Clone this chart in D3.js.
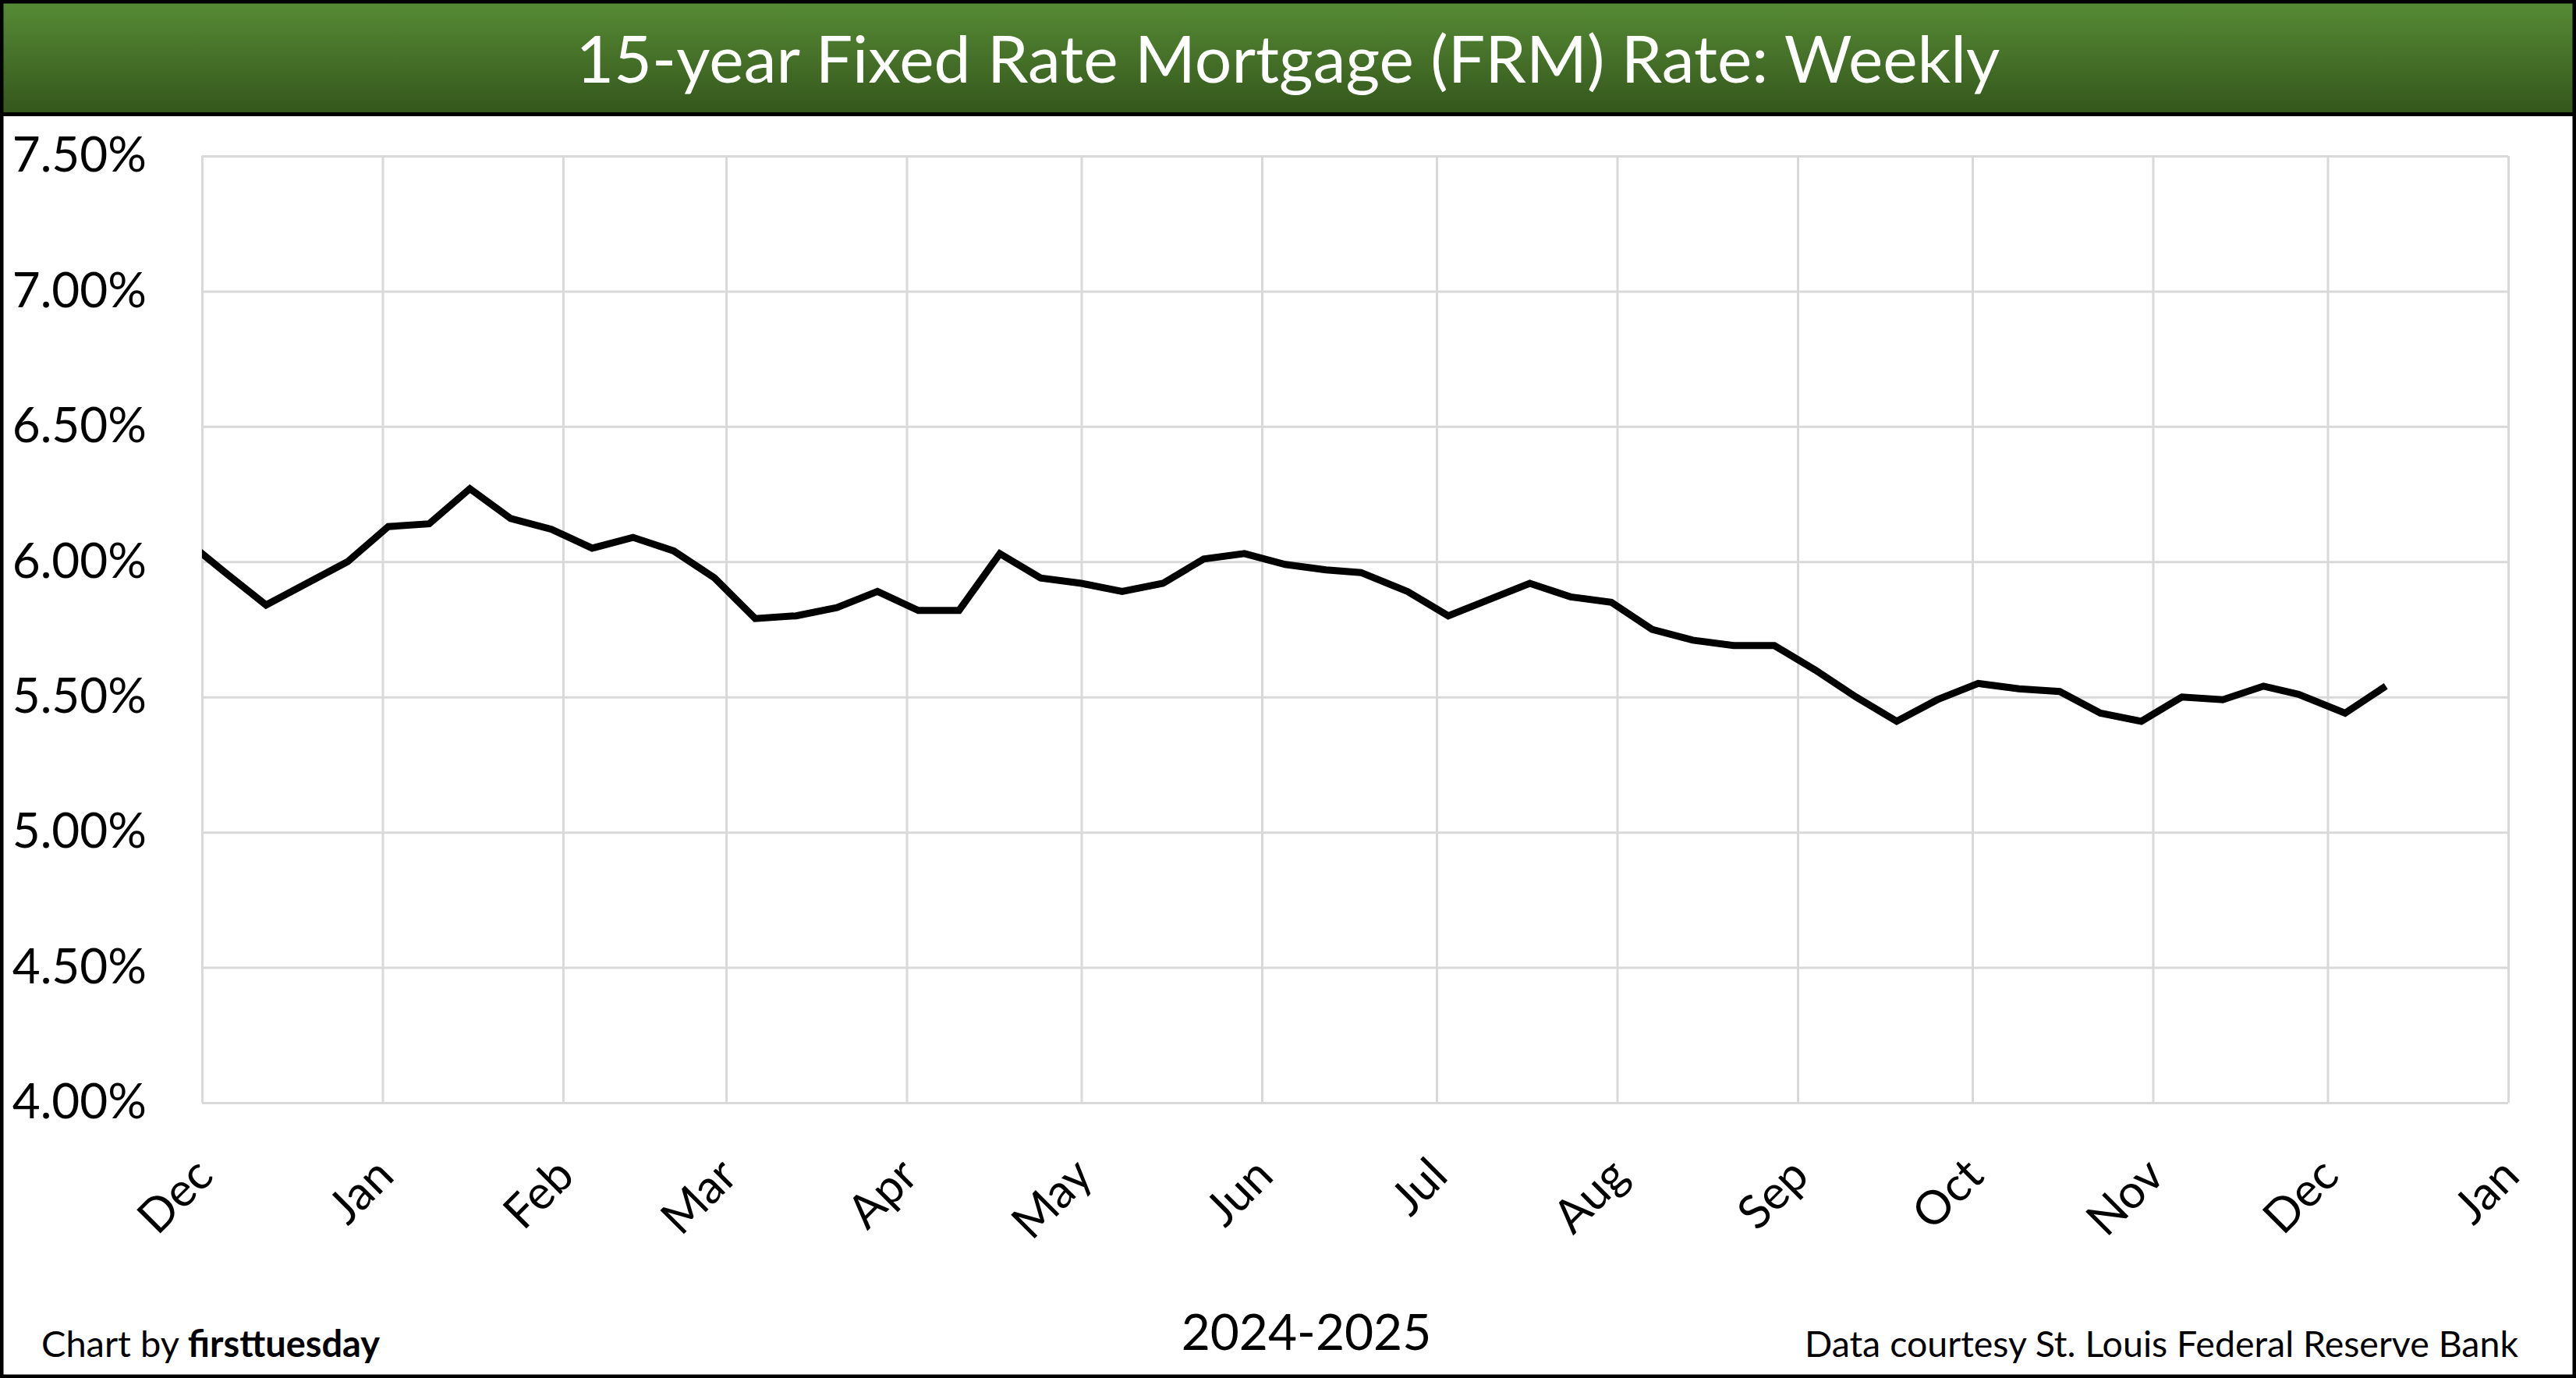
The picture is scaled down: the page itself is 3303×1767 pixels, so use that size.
<!DOCTYPE html>
<html>
<head>
<meta charset="utf-8">
<script src="https://cdn.jsdelivr.net/npm/d3@7"></script>
<style>
  body { margin: 0; background: #fff; }
  text { font-family: Lato, "Open Sans", sans-serif; }
</style>
</head>
<body>
<div id="chart"></div>
<script>
// weekly 15-year FRM rate (first point sits left of the axis and gets clipped)
const weekDates = [
  '2024-11-27', '2024-12-05', '2024-12-12', '2024-12-19', '2024-12-26',
  '2025-01-02', '2025-01-09', '2025-01-16', '2025-01-23', '2025-01-30',
  '2025-02-06', '2025-02-13', '2025-02-20', '2025-02-27',
  '2025-03-06', '2025-03-13', '2025-03-20', '2025-03-27',
  '2025-04-03', '2025-04-10', '2025-04-17', '2025-04-24',
  '2025-05-01', '2025-05-08', '2025-05-15', '2025-05-22', '2025-05-29',
  '2025-06-05', '2025-06-12', '2025-06-18', '2025-06-26',
  '2025-07-03', '2025-07-10', '2025-07-17', '2025-07-24', '2025-07-31',
  '2025-08-07', '2025-08-14', '2025-08-21', '2025-08-28',
  '2025-09-04', '2025-09-11', '2025-09-18', '2025-09-25',
  '2025-10-02', '2025-10-09', '2025-10-16', '2025-10-23', '2025-10-30',
  '2025-11-06', '2025-11-13', '2025-11-20', '2025-11-26',
  '2025-12-04', '2025-12-11'
]
const rates = [
  6.10, 5.96, 5.84, 5.92, 6.00,
  6.13, 6.14, 6.27, 6.16, 6.12,
  6.05, 6.09, 6.04, 5.94,
  5.79, 5.80, 5.83, 5.89,
  5.82, 5.82, 6.03, 5.94,
  5.92, 5.89, 5.92, 6.01, 6.03,
  5.99, 5.97, 5.96, 5.89,
  5.80, 5.86, 5.92, 5.87, 5.85,
  5.75, 5.71, 5.69, 5.69,
  5.60, 5.50, 5.41, 5.49,
  5.55, 5.53, 5.52, 5.44, 5.41,
  5.50, 5.49, 5.54, 5.51,
  5.44, 5.54
]
const yTicks = [4.0, 4.5, 5.0, 5.5, 6.0, 6.5, 7.0, 7.5]
const monthLabels = ['Dec', 'Jan', 'Feb', 'Mar', 'Apr', 'May', 'Jun', 'Jul', 'Aug', 'Sep', 'Oct', 'Nov', 'Dec', 'Jan']
const xStart = '2024-12-01'
const xEnd = '2026-01-01'

const title = '15-year Fixed Rate Mortgage (FRM) Rate: Weekly'
const xTitle = '2024-2025'

const W = 3303
const H = 1767
const plot = { left: 259, right: 3216, top: 200, bottom: 1414 }
const innerW = plot.right - plot.left
const innerH = plot.bottom - plot.top

const parse = d3.utcParse('%Y-%m-%d')
const data = weekDates.map((d, i) => ({ date: parse(d), rate: rates[i] }))

const svg = d3.select('#chart')
  .append('svg')
  .attr('width', W)
  .attr('height', H)
  .attr('viewBox', `0 0 ${W} ${H}`)

const defs = svg.append('defs')
const grad = defs.append('linearGradient')
  .attr('id', 'titleGrad')
  .attr('x1', 0).attr('y1', 0).attr('x2', 0).attr('y2', 1)
grad.append('stop').attr('offset', '0%').attr('stop-color', '#578c35')
grad.append('stop').attr('offset', '100%').attr('stop-color', '#34561c')

defs.append('clipPath').attr('id', 'plotClip')
  .append('rect')
  .attr('width', innerW)
  .attr('height', innerH)

svg.append('rect')
  .attr('width', W)
  .attr('height', H)
  .attr('fill', '#fff')

// title bar
svg.append('rect')
  .attr('x', 0).attr('y', 0)
  .attr('width', W).attr('height', 146)
  .attr('fill', 'url(#titleGrad)')
svg.append('line')
  .attr('x1', 0).attr('x2', W)
  .attr('y1', 146.5).attr('y2', 146.5)
  .attr('stroke', '#000')
  .attr('stroke-width', 5)
svg.append('text')
  .text(title)
  .attr('x', W / 2)
  .attr('y', 106)
  .attr('text-anchor', 'middle')
  .attr('fill', '#fff')
  .style('font-size', '84px')

const x = d3.scaleUtc()
  .domain([parse(xStart), parse(xEnd)])
  .range([0, innerW])

const y = d3.scaleLinear()
  .domain([yTicks[0], yTicks[yTicks.length - 1]])
  .range([innerH, 0])

const g = svg.append('g')
  .attr('transform', `translate(${plot.left}, ${plot.top})`)

const yAxis = g.append('g')
  .call(d3.axisLeft(y)
    .tickValues(yTicks)
    .tickSize(-innerW)
    .tickPadding(plot.left - 188)
    .tickFormat((d) => d.toFixed(2) + '%'))
yAxis.select('.domain').remove()
yAxis.selectAll('line').attr('stroke', '#d9d9d9').attr('stroke-width', 3)
yAxis.selectAll('text')
  .attr('fill', '#000')
  .style('font-size', '62px')
  .style('font-family', 'Lato, sans-serif')

const monthTicks = d3.utcMonth.range(parse(xStart), d3.utcDay.offset(parse(xEnd), 1))
const xAxis = g.append('g')
  .attr('transform', `translate(0, ${innerH})`)
  .call(d3.axisBottom(x)
    .tickValues(monthTicks)
    .tickSize(-innerH)
    .tickFormat((_, i) => monthLabels[i]))
xAxis.select('.domain').remove()
xAxis.selectAll('line').attr('stroke', '#d9d9d9').attr('stroke-width', 3)
xAxis.selectAll('text')
  .attr('fill', '#000')
  .attr('x', 0)
  .attr('y', 0)
  .attr('dy', '0.35em')
  .attr('text-anchor', 'end')
  .attr('transform', 'translate(2, 82) rotate(-45)')
  .style('font-size', '60px')
  .style('font-family', 'Lato, sans-serif')

const line = d3.line()
  .x((d) => x(d.date))
  .y((d) => y(d.rate))

g.append('path')
  .datum(data)
  .attr('clip-path', 'url(#plotClip)')
  .attr('d', line)
  .attr('fill', 'none')
  .attr('stroke', '#000')
  .attr('stroke-width', 9)
  .attr('stroke-linejoin', 'miter')

// footer texts
const credit = svg.append('text')
  .attr('x', 53)
  .attr('y', 1740)
  .style('font-size', '47px')
credit.append('tspan').text('Chart by ')
credit.append('tspan').text('firsttuesday').style('font-weight', 'bold')

svg.append('text')
  .text(xTitle)
  .attr('x', 1675)
  .attr('y', 1731)
  .attr('text-anchor', 'middle')
  .style('font-size', '64px')

svg.append('text')
  .text('Data courtesy St. Louis Federal Reserve Bank')
  .attr('x', 3229)
  .attr('y', 1740)
  .attr('text-anchor', 'end')
  .style('font-size', '46.5px')

// outer frame
svg.append('rect')
  .attr('x', 2).attr('y', 2)
  .attr('width', W - 4).attr('height', H - 4)
  .attr('fill', 'none')
  .attr('stroke', '#000')
  .attr('stroke-width', 5)
</script>
</body>
</html>
